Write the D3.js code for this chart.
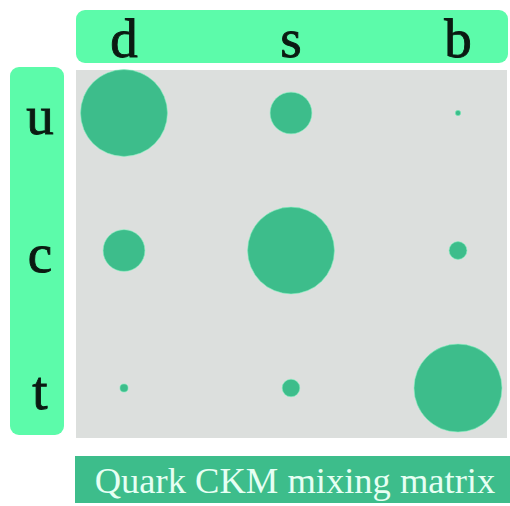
<!DOCTYPE html>
<html>
<head>
<meta charset="utf-8">
<script src="https://cdn.jsdelivr.net/npm/d3@7/dist/d3.min.js"></script>
<style>
  html, body { margin: 0; padding: 0; background: #ffffff; }
  svg { display: block; }
</style>
</head>
<body>
<svg id="chart" width="510" height="506"></svg>
<script>
// ---- data ----
const downQuarks = ["d", "s", "b"];          // columns
const upQuarks = ["u", "c", "t"];            // rows
const rowU = [0.974, 0.225, 0.0037];         // |V_ud|, |V_us|, |V_ub|
const rowC = [0.225, 0.973, 0.041];          // |V_cd|, |V_cs|, |V_cb|
const rowT = [0.0086, 0.040, 0.999];         // |V_td|, |V_ts|, |V_tb|
const titleText = "Quark CKM mixing matrix";

const matrix = [rowU, rowC, rowT];
const cells = [];
upQuarks.forEach((r, i) => downQuarks.forEach((c, j) => cells.push({ row: r, col: c, value: matrix[i][j] })));

// ---- layout ----
const svg = d3.select("#chart");
const mint = "#5cfbaa";
const green = "#3dbd8b";
const panel = "#dcdfdd";
const ink = "#0b1a12";

const x = d3.scalePoint().domain(downQuarks).range([124, 458]);
const y = d3.scalePoint().domain(upQuarks).range([113, 388]);
const r = d3.scaleSqrt().domain([0, 1]).range([0, 44]);

// header band (columns)
svg.append("rect").attr("x", 76).attr("y", 10).attr("width", 432).attr("height", 53)
  .attr("rx", 9).attr("fill", mint);
// left band (rows)
svg.append("rect").attr("x", 10).attr("y", 67).attr("width", 54).attr("height", 368)
  .attr("rx", 9).attr("fill", mint);
// grey panel
svg.append("rect").attr("x", 76).attr("y", 70).attr("width", 431).attr("height", 368)
  .attr("fill", panel);
// title box
svg.append("rect").attr("x", 75).attr("y", 456).attr("width", 435).attr("height", 47)
  .attr("fill", green);

const font = "'Liberation Serif', 'Times New Roman', serif";

svg.append("g").selectAll("text").data(downQuarks).join("text")
  .attr("x", d => x(d)).attr("y", 57)
  .attr("text-anchor", "middle")
  .attr("font-family", font).attr("font-size", 55)
  .attr("fill", ink).attr("stroke", ink).attr("stroke-width", 0.9)
  .text(d => d);

svg.append("g").selectAll("text").data(upQuarks).join("text")
  .attr("x", 40).attr("y", d => y(d) + 21)
  .attr("text-anchor", "middle")
  .attr("font-family", font).attr("font-size", 55)
  .attr("fill", ink).attr("stroke", ink).attr("stroke-width", 0.9)
  .text(d => d);

svg.append("g").selectAll("circle").data(cells).join("circle")
  .attr("cx", d => x(d.col)).attr("cy", d => y(d.row))
  .attr("r", d => r(d.value))
  .attr("fill", green)
  .attr("stroke", "#7ff2bf").attr("stroke-width", 0.8).attr("stroke-opacity", 0.7);

svg.append("text")
  .attr("x", 295).attr("y", 493)
  .attr("text-anchor", "middle")
  .attr("font-family", font).attr("font-size", 36.5)
  .attr("fill", "#e6fff3").text(titleText);
</script>
</body>
</html>
